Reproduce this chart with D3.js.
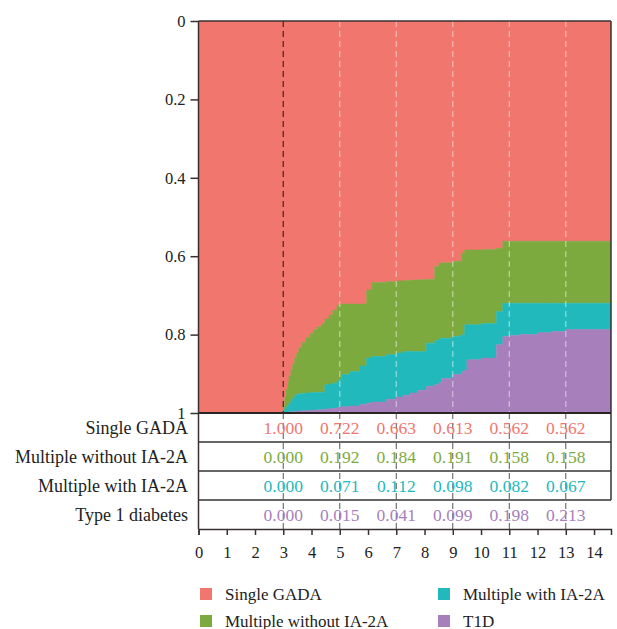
<!DOCTYPE html>
<html>
<head>
<meta charset="utf-8">
<script src="https://cdn.jsdelivr.net/npm/d3@7"></script>
<style>
  body { margin: 0; background: #fff; }
  text { font-family: "Liberation Serif", "DejaVu Serif", serif; }
</style>
</head>
<body>
<div id="chart"></div>
<script>

// step times (years) and the share of each group at that time
var times = [0, 3.00, 3.05, 3.10, 3.15, 3.20, 3.27, 3.33, 3.40, 3.47, 3.55, 3.65, 3.80, 3.95, 4.06, 4.20, 4.35, 4.47, 4.62, 4.75, 4.90,
  5.00, 5.05, 5.36, 5.70, 5.95, 6.12, 6.65, 7.00, 7.25, 7.50, 7.75, 8.07, 8.36, 8.51, 8.60, 9.00, 9.30, 9.42, 9.50, 10.00,
  10.54, 10.77, 11.00, 11.36, 12.00, 12.48, 13.00, 14.60];
var singleGADA = [1, 0.98, 0.96, 0.94, 0.92, 0.905, 0.89, 0.875, 0.86, 0.847, 0.833, 0.820, 0.808, 0.797, 0.787, 0.780, 0.772, 0.760, 0.750, 0.738, 0.725,
  0.722, 0.722, 0.722, 0.722, 0.686, 0.667, 0.665, 0.663, 0.662, 0.661, 0.660, 0.659, 0.626, 0.618, 0.617, 0.613, 0.592, 0.584, 0.584, 0.583,
  0.580, 0.562, 0.562, 0.562, 0.562, 0.562, 0.562, 0.562];
var multiWithout = [0, 0.015, 0.03, 0.045, 0.06, 0.07, 0.078, 0.087, 0.096, 0.105, 0.117, 0.130, 0.141, 0.151, 0.161, 0.167, 0.175, 0.168, 0.176, 0.186, 0.193,
  0.192, 0.180, 0.172, 0.158, 0.174, 0.189, 0.186, 0.184, 0.181, 0.182, 0.183, 0.163, 0.189, 0.192, 0.192, 0.191, 0.208, 0.191, 0.191, 0.189,
  0.161, 0.158, 0.158, 0.158, 0.158, 0.158, 0.158, 0.158];
var multiWith = [0, 0.005, 0.01, 0.015, 0.018, 0.022, 0.029, 0.034, 0.040, 0.043, 0.045, 0.044, 0.045, 0.045, 0.045, 0.045, 0.044, 0.062, 0.063, 0.064, 0.068,
  0.071, 0.082, 0.088, 0.098, 0.115, 0.116, 0.114, 0.112, 0.112, 0.106, 0.099, 0.110, 0.112, 0.112, 0.103, 0.098, 0.095, 0.115, 0.089, 0.088,
  0.085, 0.085, 0.082, 0.080, 0.075, 0.072, 0.067, 0.067];
var t1d = [0, 0, 0, 0, 0.002, 0.003, 0.003, 0.004, 0.004, 0.005, 0.005, 0.006, 0.006, 0.007, 0.007, 0.008, 0.009, 0.010, 0.011, 0.012, 0.014,
  0.015, 0.016, 0.018, 0.022, 0.025, 0.028, 0.035, 0.041, 0.045, 0.051, 0.058, 0.068, 0.073, 0.078, 0.088, 0.099, 0.105, 0.110, 0.136, 0.140,
  0.174, 0.195, 0.198, 0.200, 0.205, 0.208, 0.213, 0.213];

// numbers printed in the table under the plot
var tableTimes = [3, 5, 7, 9, 11, 13];
var tableSingle = [1.000, 0.722, 0.663, 0.613, 0.562, 0.562];
var tableMultiWithout = [0.000, 0.192, 0.184, 0.191, 0.158, 0.158];
var tableMultiWith = [0.000, 0.071, 0.112, 0.098, 0.082, 0.067];
var tableT1D = [0.000, 0.015, 0.041, 0.099, 0.198, 0.213];

var rowLabels = ["Single GADA", "Multiple without IA-2A", "Multiple with IA-2A", "Type 1 diabetes"];
var legendLabels = ["Single GADA", "Multiple without IA-2A", "Multiple with IA-2A", "T1D"];
var keys = ["single", "multiWithout", "multiWith", "t1d"];
var colors = ["#f0766e", "#7caa3e", "#22b9bc", "#a67fbb"];
var xTicks = d3.range(0, 15);
var yTicks = [0, 0.2, 0.4, 0.6, 0.8, 1];

var margin = { top: 21, left: 198.5, right: 6, rowH: 29 };
var W = 617, H = 629;
var plotH = 392;
var plotW = W - margin.left - margin.right;

var svg = d3.select("#chart").append("svg")
  .attr("width", W)
  .attr("height", H);

var x = d3.scaleLinear().domain([0, 14.6]).range([margin.left, margin.left + plotW]);
var y = d3.scaleLinear().domain([0, 1]).range([margin.top, margin.top + plotH]);

var rows = times.map(function (t, i) {
  return { t: t, single: singleGADA[i], multiWithout: multiWithout[i], multiWith: multiWith[i], t1d: t1d[i] };
});
var series = d3.stack().keys(keys)(rows);

svg.append("clipPath").attr("id", "clip")
  .append("rect")
  .attr("x", x(0)).attr("y", y(0))
  .attr("width", plotW).attr("height", plotH);

var area = d3.area()
  .curve(d3.curveStepAfter)
  .x(function (d) { return x(d.data.t); })
  .y0(function (d) { return y(d[0]); })
  .y1(function (d) { return y(d[1]); });

var g = svg.append("g").attr("clip-path", "url(#clip)");
g.selectAll("path.layer")
  .data(series)
  .enter().append("path")
  .attr("class", "layer")
  .attr("fill", function (d, i) { return colors[i]; })
  .attr("stroke", function (d, i) { return colors[i]; })
  .attr("stroke-width", 0.5)
  .attr("d", area);

// dashed guide lines in the plot
g.selectAll("line.guide")
  .data(tableTimes)
  .enter().append("line")
  .attr("class", "guide")
  .attr("x1", function (d) { return x(d); })
  .attr("x2", function (d) { return x(d); })
  .attr("y1", y(0))
  .attr("y2", y(1))
  .attr("stroke", function (d) { return d === 3 ? "#3a2626" : "#ffffff"; })
  .attr("stroke-opacity", function (d) { return d === 3 ? 0.9 : 0.5; })
  .attr("stroke-width", function (d) { return d === 3 ? 1.3 : 1.2; })
  .attr("stroke-dasharray", "6,4");

// table below the plot
var tableTop = y(1);
var tableRows = [tableSingle, tableMultiWithout, tableMultiWith, tableT1D];

svg.selectAll("line.tguide")
  .data(tableTimes)
  .enter().append("line")
  .attr("class", "tguide")
  .attr("x1", function (d) { return x(d); })
  .attr("x2", function (d) { return x(d); })
  .attr("y1", tableTop)
  .attr("y2", tableTop + 4 * margin.rowH)
  .attr("stroke", "#555")
  .attr("stroke-width", 1)
  .attr("stroke-dasharray", "6,4");

tableRows.forEach(function (vals, r) {
  var cy = tableTop + r * margin.rowH + margin.rowH / 2;
  svg.selectAll("text.cell" + r)
    .data(vals)
    .enter().append("text")
    .attr("class", "cell" + r)
    .attr("x", function (d, i) { return x(tableTimes[i]); })
    .attr("y", cy)
    .attr("dy", "0.35em")
    .attr("text-anchor", "middle")
    .attr("fill", colors[r])
    .style("font-size", "17.5px")
    .text(function (d) { return d3.format(".3f")(d); });

  svg.append("text")
    .attr("x", 188)
    .attr("y", cy)
    .attr("dy", "0.35em")
    .attr("text-anchor", "end")
    .attr("fill", "#222")
    .style("font-size", "18px")
    .text(rowLabels[r]);
});

// row borders
svg.selectAll("line.rowline")
  .data(d3.range(1, 4))
  .enter().append("line")
  .attr("class", "rowline")
  .attr("x1", x(0)).attr("x2", x(14.6))
  .attr("y1", function (d) { return tableTop + d * margin.rowH; })
  .attr("y2", function (d) { return tableTop + d * margin.rowH; })
  .attr("stroke", "#333").attr("stroke-width", 1.5);

svg.append("line")
  .attr("x1", x(14.6)).attr("x2", x(14.6))
  .attr("y1", y(0)).attr("y2", tableTop + 3 * margin.rowH)
  .attr("stroke", "#3a3030").attr("stroke-width", 1.5);

svg.append("line")
  .attr("x1", x(0)).attr("x2", x(14.6))
  .attr("y1", y(0)).attr("y2", y(0))
  .attr("stroke", "#3a3030").attr("stroke-width", 1.5);

svg.append("line")
  .attr("x1", x(0)).attr("x2", x(14.6))
  .attr("y1", y(1)).attr("y2", y(1))
  .attr("stroke", "#2a2424").attr("stroke-width", 2);

// axes
var yAxis = d3.axisLeft(y).tickValues(yTicks).tickSize(8).tickPadding(5)
  .tickFormat(function (d) { return d === 0 || d === 1 ? d3.format("d")(d) : d3.format(".1f")(d); });
var ya = svg.append("g")
  .attr("transform", "translate(" + x(0) + ",0)")
  .call(yAxis);
ya.select(".domain").remove();
ya.append("line")
  .attr("x1", 0).attr("x2", 0)
  .attr("y1", y(0)).attr("y2", tableTop + 4 * margin.rowH)
  .attr("stroke", "#3a3030").attr("stroke-width", 1.5);

var xAxis = d3.axisBottom(x).tickValues(xTicks).tickSizeOuter(0).tickSize(6).tickPadding(11);
var xa = svg.append("g")
  .attr("transform", "translate(0," + (tableTop + 4 * margin.rowH) + ")")
  .call(xAxis);

[ya, xa].forEach(function (a) {
  a.selectAll("text").style("font-size", "16.5px").attr("fill", "#222")
    .style("font-family", "'Liberation Serif', serif");
  a.selectAll(".tick line").attr("stroke", "#3a3030").attr("stroke-width", 1.5);
  a.select(".domain").attr("stroke", "#3a3030").attr("stroke-width", 1.5);
});

// legend, two columns
var legend = svg.append("g");
legendLabels.forEach(function (lab, i) {
  var col = i < 2 ? 0 : 1, row = i % 2;
  var lx = col === 0 ? 200 : 438;
  var ly = 588 + row * 27;
  legend.append("rect")
    .attr("x", lx).attr("y", ly)
    .attr("width", 12).attr("height", 12)
    .attr("fill", colors[i]);
  legend.append("text")
    .attr("x", lx + 25).attr("y", ly + 6)
    .attr("dy", "0.35em")
    .attr("fill", "#222")
    .style("font-size", "17px")
    .text(lab);
});

</script>
</body>
</html>
